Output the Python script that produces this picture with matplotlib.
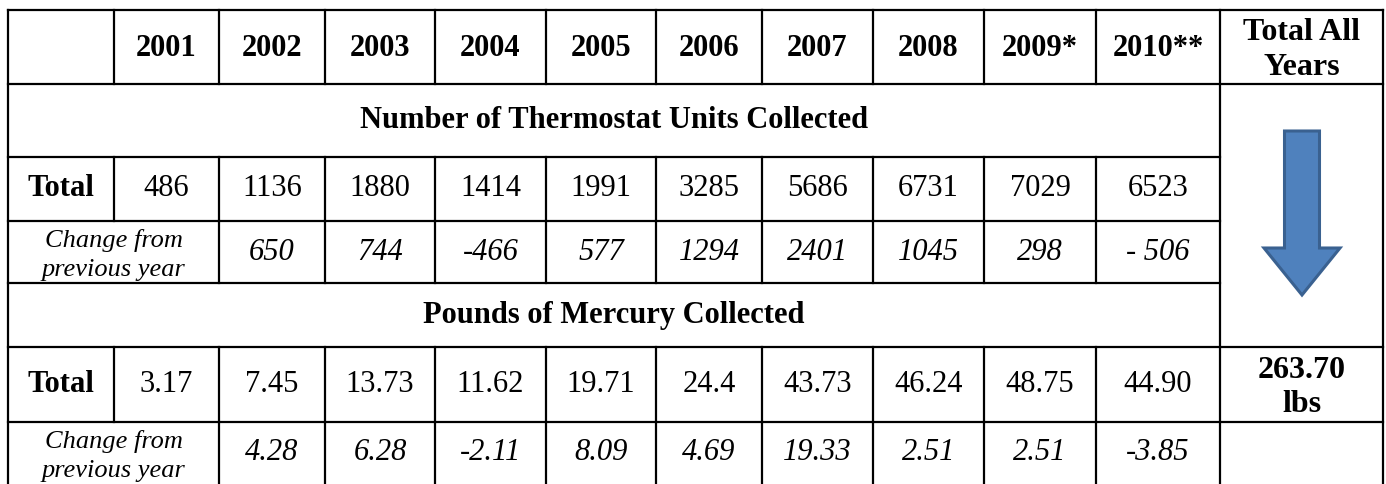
import matplotlib.pyplot as plt
from matplotlib.patches import FancyArrow

plt.rcParams['font.family'] = ['Liberation Serif', 'DejaVu Serif']

# table data
years = ['2001', '2002', '2003', '2004', '2005', '2006', '2007', '2008', '2009*', '2010**']
units_total = ['486', '1136', '1880', '1414', '1991', '3285', '5686', '6731', '7029', '6523']
units_change = ['650', '744', '-466', '577', '1294', '2401', '1045', '298', '- 506']
mercury_total = ['3.17', '7.45', '13.73', '11.62', '19.71', '24.4', '43.73', '46.24', '48.75', '44.90']
mercury_change = ['4.28', '6.28', '-2.11', '8.09', '4.69', '19.33', '2.51', '2.51', '-3.85']
total_all_years = '263.70\nlbs'
section_titles = ['Number of Thermostat Units Collected', 'Pounds of Mercury Collected']

# layout in pixels
W, H = 1386, 484
col_edges = [8, 114, 219, 325, 435, 546, 656, 762, 873, 984, 1096, 1220, 1383]
row_edges = [10, 84, 157, 221, 283, 347, 422, 484]
lw = 1.6
big = 22
small = 19

fig = plt.figure(figsize=(W / 100, H / 100), dpi=100)
ax = fig.add_axes([0, 0, 1, 1])
ax.set_xlim(0, W)
ax.set_ylim(H, 0)
ax.axis('off')

left, right = col_edges[0], col_edges[-1]
last = col_edges[-2]

# horizontal rules
for y in [10, 84, 347, 422]:
    ax.plot([left, right], [y, y], color='black', lw=lw, solid_capstyle='projecting')
for y in [157, 221, 283]:
    ax.plot([left, last], [y, y], color='black', lw=lw, solid_capstyle='projecting')

# outer verticals
for x in [left, last, right]:
    ax.plot([x, x], [row_edges[0], H], color='black', lw=lw)

# inner verticals: header, total rows, change rows
for x in col_edges[1:-2]:
    for r0, r1 in [(0, 1), (2, 3), (5, 6)]:
        ax.plot([x, x], [row_edges[r0], row_edges[r1]], color='black', lw=lw)
    if x != col_edges[1]:
        for r0, r1 in [(3, 4), (6, 7)]:
            ax.plot([x, x], [row_edges[r0], row_edges[r1]], color='black', lw=lw)


def cy(r):
    return (row_edges[r] + row_edges[r + 1]) / 2


def cx(c):
    return (col_edges[c] + col_edges[c + 1]) / 2


# header
for i, yr in enumerate(years):
    ax.text(cx(i + 1), cy(0) + 1, yr, ha='center', va='center', fontsize=big, fontweight='bold')
ax.text(cx(11), cy(0) + 3, 'Total All\nYears', ha='center', va='center', fontsize=23,
        fontweight='bold', linespacing=1.25)

# section titles
ax.text((left + last) / 2, cy(1), section_titles[0], ha='center', va='center',
        fontsize=big, fontweight='bold')
ax.text((left + last) / 2, cy(4), section_titles[1], ha='center', va='center',
        fontsize=big, fontweight='bold')

change_label = 'Change from\nprevious year'
for r, totals, changes in [(2, units_total, units_change), (5, mercury_total, mercury_change)]:
    ax.text(cx(0), cy(r), 'Total', ha='center', va='center', fontsize=big, fontweight='bold')
    for i, v in enumerate(totals):
        ax.text(cx(i + 1), cy(r), v, ha='center', va='center', fontsize=big)
    ax.text((col_edges[0] + col_edges[2]) / 2, cy(r + 1) + 3, change_label, ha='center',
            va='center', fontsize=small, style='italic', linespacing=1.4)
    for i, v in enumerate(changes):
        ax.text(cx(i + 2), cy(r + 1), v, ha='center', va='center', fontsize=big, style='italic')

ax.text(cx(11), cy(5) + 3, total_all_years, ha='center', va='center', fontsize=23,
        fontweight='bold', linespacing=1.25)

# down arrow in the total column
arrow = FancyArrow(1302, 131, 0, 164, width=35, head_width=76, head_length=47,
                   length_includes_head=True, facecolor='#4F81BD', edgecolor='#3A6190', lw=2.2)
ax.add_patch(arrow)

fig.savefig('out.png', dpi=100)
